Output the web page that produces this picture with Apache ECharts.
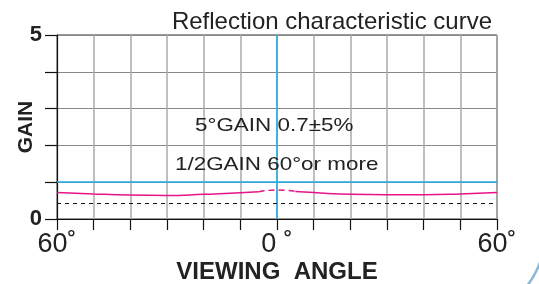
<!DOCTYPE html>
<html>
<head>
<meta charset="utf-8">
<script src="https://cdn.jsdelivr.net/npm/echarts@6/dist/echarts.min.js"></script>
<style>
  html, body { margin: 0; padding: 0; background: #fff; }
  #chart { width: 539px; height: 284px; }
</style>
</head>
<body>
<div id="chart"></div>
<script>
// viewing angle (deg) and gain
const anglesLeft = [-60, -50, -40, -30, -20, -10, -5]
const gainLeft = [0.72, 0.68, 0.65, 0.64, 0.67, 0.71, 0.74]
const anglesMid = [-5, 0, 5]
const gainMid = [0.74, 0.79, 0.75]
const anglesRight = [5, 10, 20, 30, 40, 50, 60]
const gainRight = [0.75, 0.72, 0.67, 0.66, 0.66, 0.68, 0.72]
const refGain = 1.0
const halfGain = 0.43
const notes = ['5°GAIN 0.7±5%', '1/2GAIN 60°or more']

const font = 'Liberation Sans, Arial, sans-serif'
const cyan = '#1eaee6'
const magenta = '#e8138a'

const pairs = (xs, ys) => xs.map((x, i) => [x, ys[i]])

const chart = echarts.init(document.getElementById('chart'))
const option = {
  animation: false,
  backgroundColor: '#fff',
  title: {
    text: 'Reflection characteristic curve',
    right: 42,
    top: 5,
    textStyle: { fontFamily: font, fontSize: 24, fontWeight: 'normal', color: '#222' }
  },
  grid: {
    left: 57, right: 42, top: 35, bottom: 65,
    outerBoundsMode: 'none',
    show: true, borderColor: '#333', borderWidth: 1
  },
  xAxis: {
    type: 'value',
    min: -60,
    max: 60,
    interval: 10,
    name: 'VIEWING  ANGLE',
    nameLocation: 'middle',
    nameGap: 41,
    nameMoveOverlap: false,
    nameTextStyle: { fontFamily: font, fontSize: 24, fontWeight: 'bold', color: '#222' },
    axisLine: { onZero: false, lineStyle: { color: '#111', width: 1.2 } },
    axisTick: { show: true, length: 11, lineStyle: { color: '#111', width: 1.2 } },
    axisLabel: {
      margin: 12,
      fontFamily: font,
      fontSize: 27,
      color: '#222',
      formatter: v => (v === -60 || v === 60) ? '60˚' : (v === 0 ? '0 ˚' : '')
    },
    splitLine: { show: true, lineStyle: { color: '#aaa', width: 1.5 } }
  },
  yAxis: {
    type: 'value',
    min: 0,
    max: 5,
    interval: 1,
    name: 'GAIN',
    nameLocation: 'middle',
    nameGap: 20,
    nameRotate: 90,
    nameMoveOverlap: false,
    nameTextStyle: { fontFamily: font, fontSize: 21, fontWeight: 'bold', color: '#222' },
    axisLine: { show: true, onZero: false, lineStyle: { color: '#111', width: 1.2 } },
    axisTick: { show: true, length: 12, lineStyle: { color: '#111', width: 1.2 } },
    axisLabel: {
      margin: 15,
      fontFamily: font,
      fontSize: 22,
      fontWeight: 'bold',
      color: '#222',
      formatter: v => (v === 0 || v === 5) ? String(v) : ''
    },
    splitLine: { show: true, lineStyle: { color: '#888', width: 1 } }
  },
  series: [
    {
      type: 'line',
      data: pairs(anglesLeft, gainLeft),
      smooth: true,
      showSymbol: false,
      lineStyle: { color: magenta, width: 1.5 },
      z: 5,
      markLine: {
        silent: true,
        symbol: 'none',
        label: { show: false },
        data: [
          { xAxis: 0, lineStyle: { color: cyan, width: 1.5, type: 'solid' } },
          { yAxis: refGain, lineStyle: { color: cyan, width: 1.5, type: 'solid' } },
          { yAxis: halfGain, lineStyle: { color: '#111', width: 1, type: [4, 4] } }
        ]
      }
    },
    {
      type: 'line',
      data: pairs(anglesMid, gainMid),
      smooth: true,
      showSymbol: false,
      lineStyle: { color: magenta, width: 1.5, type: [6, 4] },
      z: 5
    },
    {
      type: 'line',
      data: pairs(anglesRight, gainRight),
      smooth: true,
      showSymbol: false,
      lineStyle: { color: magenta, width: 1.5 },
      z: 5
    }
  ],
  graphic: [
    {
      type: 'text', left: 195, top: 116, z: 10, scaleX: 1.18,
      style: { text: notes[0], font: '19px ' + font, fill: '#222' }
    },
    {
      type: 'text', left: 175, top: 155, z: 10, scaleX: 1.18,
      style: { text: notes[1], font: '19px ' + font, fill: '#222' }
    },
    {
      type: 'bezierCurve', z: 1,
      shape: { x1: 527, y1: 286, cpx1: 535, cpy1: 276, x2: 541, y2: 260 },
      style: { stroke: '#8cb8d6', lineWidth: 2.5, fill: 'none' }
    }
  ]
}
chart.setOption(option)
</script>
</body>
</html>
